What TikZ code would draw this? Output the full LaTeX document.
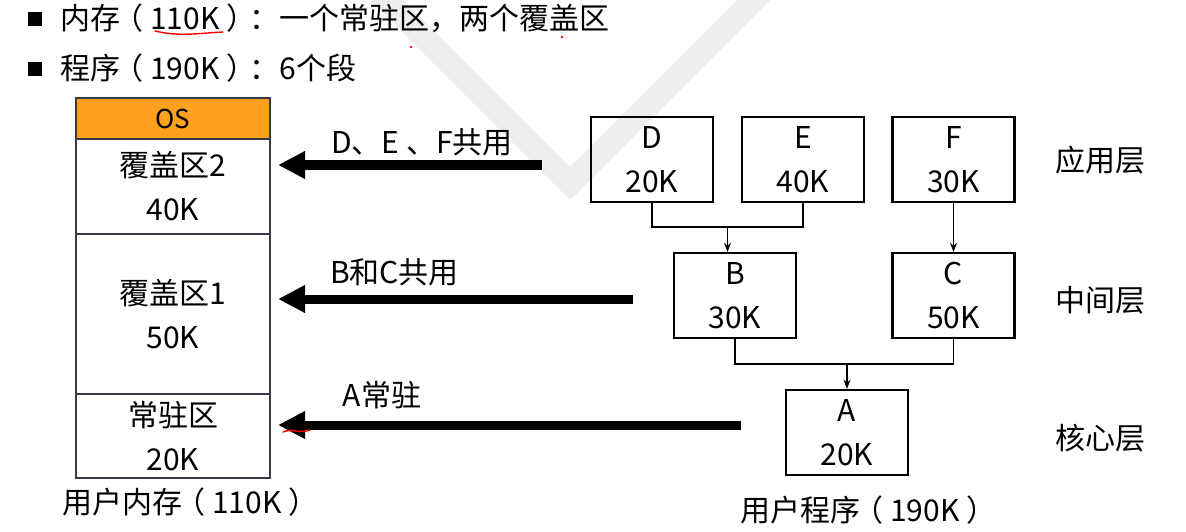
\documentclass[tikz,border=0pt]{standalone}
\usepackage{fontspec}
\setmainfont{Noto Sans CJK SC}
\usetikzlibrary{arrows.meta}
\definecolor{memline}{RGB}{55,58,72}
\definecolor{osfill}{RGB}{255,161,30}
\definecolor{wmgray}{RGB}{238,238,238}
\newcommand\lparc{\makebox[1em][l]{\hspace{-0.22em}（}}
\newcommand\rparc{\makebox[1em][l]{\hspace{0.22em}）}}
\begin{document}
\begin{tikzpicture}[x=1pt,y=-1pt,
  seg/.style={draw=black, line width=2.4pt, minimum width=122pt, minimum height=85pt, inner sep=0pt, align=center, font=\fontsize{30}{44}\selectfont},
  memcell/.style={draw=memline, line width=2pt, minimum width=194pt, inner sep=0pt, align=center, font=\fontsize{30}{44}\selectfont},
  txt/.style={inner sep=0pt, font=\fontsize{30}{36}\selectfont},
  bulletbox/.style={fill=black, inner sep=0pt, minimum size=14pt},
  bigarrow/.style={line width=9pt, -{Triangle[length=27pt,width=26pt]}, shorten >=7pt},
  link/.style={line width=1.3pt, -{Stealth[length=9pt,width=7pt]}},
  plainlink/.style={line width=1.3pt},
  redmark/.style={draw=red, line width=1.4pt, line cap=round},
  ]
\fill[white] (0,0) rectangle (1186,532);
\useasboundingbox (0,0) rectangle (1186,532);
% watermark
\fill[wmgray] (403,0) -- (570,167) -- (737,0) -- (770,0) -- (570,200) -- (370,0) -- cycle;

% header
\node[bulletbox] (b1) at (35,19) {};
\node[bulletbox] (b2) at (35,69) {};
\node[txt, anchor=west] (h1) at (60,18) {内存\lparc110K\rparc：一个常驻区，两个覆盖区};
\node[txt, anchor=west] (h2) at (60,68) {程序\lparc190K\rparc：6个段};

% memory column
\node[memcell, fill=osfill, minimum height=41pt, font=\fontsize{26}{30}\selectfont] (os) at (173,118.5) {OS};
\node[memcell, minimum height=95pt] (ov2) at (173,186.5) {覆盖区2\\40K};
\node[memcell, minimum height=160pt] (ov1) at (173,314) {覆盖区1\\50K};
\node[memcell, minimum height=84pt] (res) at (173,436) {常驻区\\20K};
\node[txt, anchor=west] (memlabel) at (62,502) {用户内存\lparc110K\rparc};

% segments
\node[seg] (D) at (652,159.5) {D\\20K};
\node[seg] (E) at (803,159.5) {E\\40K};
\node[seg] (F) at (953.5,159.5) {F\\30K};
\node[seg] (B) at (735,295.5) {B\\30K};
\node[seg] (C) at (953.5,295.5) {C\\50K};
\node[seg] (A) at (847,432.5) {A\\20K};
\node[txt, anchor=west] (proglabel) at (740,510) {用户程序\lparc190K\rparc};

% layer labels
\node[txt] (lay1) at (1100,160) {应用层};
\node[txt] (lay2) at (1100,300) {中间层};
\node[txt] (lay3) at (1100,438) {核心层};

% tree connectors
\coordinate (jDE) at (727.5,227);
\draw[plainlink] (D.south) |- (jDE) -| (E.south);
\draw[link] (jDE) -- (jDE |- B.north);
\draw[link] (F.south) -- (C.north);
\coordinate (jBC) at (847,364);
\draw[plainlink] (B.south) |- (jBC) -| (C.south);
\draw[link] (jBC) -- (A.north);

% thick arrows
\coordinate (tail1) at (542,165);
\coordinate (tail2) at (633,299);
\coordinate (tail3) at (741,425);
\draw[bigarrow] (tail1) -- (tail1 -| ov2.east);
\draw[bigarrow] (tail2) -- (tail2 -| ov1.east);
\draw[bigarrow] (tail3) -- (tail3 -| res.east);
\node[txt] (lab1) at (422,142) {D、E 、F共用};
\node[txt] (lab2) at (394.5,272) {B和C共用};
\node[txt] (lab3) at (382,395) {A常驻};

% red hand marks
\draw[redmark] (155,31) .. controls (180,37) and (200,33) .. (223,32);
\fill[red] (411,47) circle (1.3);
\fill[red] (562,37) circle (1.3);
\draw[redmark] (283,432) .. controls (292,428) and (300,434) .. (310,430);
\end{tikzpicture}
\end{document}
